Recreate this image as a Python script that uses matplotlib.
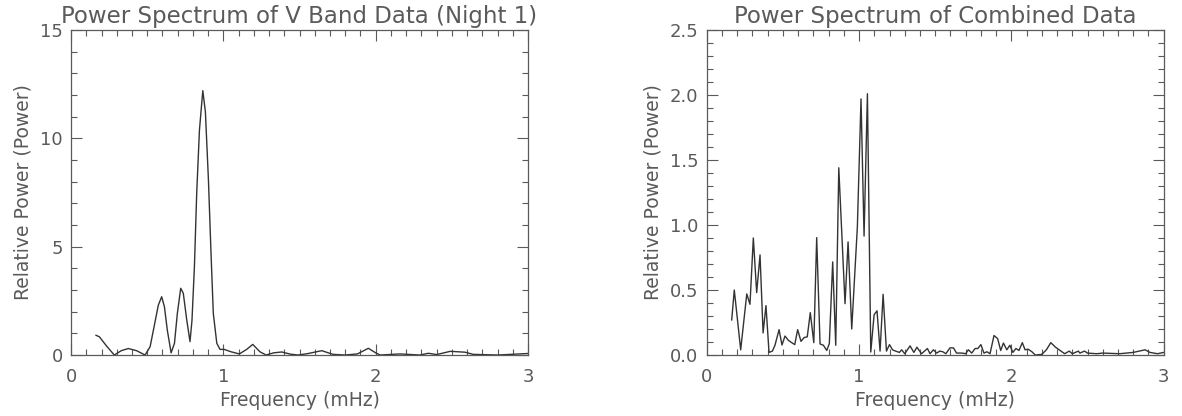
import numpy as np
import matplotlib.pyplot as plt
from matplotlib.ticker import MultipleLocator, FormatStrFormatter

# Espectro de potencia, banda V (noche 1)
freq_v = [0.164, 0.186, 0.235, 0.284, 0.33, 0.376, 0.43, 0.486, 0.519, 0.545,
          0.573, 0.595, 0.613, 0.632, 0.657, 0.679, 0.698, 0.72, 0.737, 0.76,
          0.781, 0.794, 0.81, 0.825, 0.843, 0.865, 0.882, 0.902, 0.919, 0.934,
          0.957, 0.978, 1.005, 1.05, 1.105, 1.153, 1.193, 1.24, 1.28, 1.33,
          1.383, 1.44, 1.49, 1.55, 1.646, 1.72, 1.8, 1.88, 1.952, 2.0,
          2.03, 2.16, 2.29, 2.346, 2.4, 2.49, 2.587, 2.64, 2.8, 3.0]
power_v = [0.91, 0.84, 0.4, 0.0, 0.2, 0.3, 0.2, 0.0, 0.38, 1.3,
           2.3, 2.69, 2.23, 1.15, 0.1, 0.54, 1.92, 3.08, 2.85, 1.6,
           0.62, 1.6, 4.08, 7.46, 10.38, 12.2, 11.23, 8.08, 4.69, 1.92,
           0.54, 0.26, 0.26, 0.15, 0.05, 0.26, 0.49, 0.15, 0.0, 0.1,
           0.14, 0.04, 0.0, 0.06, 0.2, 0.03, 0.0, 0.05, 0.31, 0.1,
           0.0, 0.05, 0.0, 0.08, 0.02, 0.17, 0.13, 0.03, 0.0, 0.07]

# Espectro de potencia, datos combinados
freq_c = [0.164, 0.181, 0.223, 0.263, 0.284, 0.306, 0.328, 0.35, 0.37, 0.389,
          0.409, 0.431, 0.448, 0.475, 0.494, 0.514, 0.536, 0.558, 0.578, 0.597,
          0.619, 0.639, 0.66, 0.68, 0.703, 0.722, 0.744, 0.766, 0.788, 0.805,
          0.827, 0.847, 0.867, 0.908, 0.928, 0.952, 0.989, 1.013, 1.033, 1.055,
          1.077, 1.099, 1.118, 1.138, 1.158, 1.18, 1.2, 1.22, 1.24, 1.265,
          1.28, 1.30, 1.335, 1.36, 1.38, 1.41, 1.449, 1.466, 1.488, 1.51,
          1.53, 1.55, 1.57, 1.597, 1.62, 1.64, 1.675, 1.70, 1.718, 1.74,
          1.762, 1.78, 1.80, 1.82, 1.84, 1.86, 1.886, 1.91, 1.93, 1.948,
          1.97, 1.99, 2.01, 2.03, 2.05, 2.072, 2.09, 2.11, 2.135, 2.157,
          2.2, 2.23, 2.259, 2.29, 2.32, 2.35, 2.38, 2.4, 2.44, 2.45,
          2.48, 2.5, 2.56, 2.6, 2.71, 2.8, 2.878, 2.91, 2.96, 3.0]
power_c = [0.27, 0.50, 0.04, 0.47, 0.39, 0.90, 0.48, 0.77, 0.17, 0.38,
           0.02, 0.03, 0.075, 0.195, 0.077, 0.146, 0.113, 0.095, 0.08, 0.195,
           0.105, 0.134, 0.14, 0.326, 0.095, 0.903, 0.085, 0.075, 0.035, 0.088,
           0.716, 0.075, 1.44, 0.395, 0.87, 0.2, 0.985, 1.97, 0.915, 2.01,
           0.023, 0.31, 0.34, 0.03, 0.467, 0.03, 0.08, 0.04, 0.03, 0.02,
           0.04, 0.01, 0.07, 0.02, 0.06, 0.01, 0.05, 0.01, 0.04, 0.015,
           0.03, 0.025, 0.01, 0.055, 0.055, 0.015, 0.015, 0.01, 0.04, 0.015,
           0.05, 0.05, 0.08, 0.015, 0.025, 0.01, 0.15, 0.126, 0.035, 0.092,
           0.04, 0.075, 0.02, 0.05, 0.035, 0.095, 0.04, 0.045, 0.025, 0.0,
           0.005, 0.04, 0.095, 0.06, 0.035, 0.01, 0.03, 0.01, 0.03, 0.015,
           0.03, 0.015, 0.01, 0.015, 0.01, 0.02, 0.04, 0.02, 0.01, 0.02]

titles = ["Power Spectrum of V Band Data (Night 1)", "Power Spectrum of Combined Data"]

text_col = '#5a5a5a'
line_col = '#333333'

plt.rcParams['font.family'] = 'DejaVu Sans'

fig = plt.figure(figsize=(11.82, 4.16), dpi=100)
ax1 = fig.add_axes([0.0601, 0.1466, 0.3866, 0.7813])
ax2 = fig.add_axes([0.5979, 0.1466, 0.3866, 0.7813])

ax1.plot(freq_v, power_v, color=line_col, lw=1.0)
ax2.plot(freq_c, power_c, color=line_col, lw=1.0)

ax1.set_ylim(0, 15)
ax1.yaxis.set_major_locator(MultipleLocator(5))
ax1.yaxis.set_minor_locator(MultipleLocator(1))
ax2.set_ylim(0, 2.5)
ax2.yaxis.set_major_locator(MultipleLocator(0.5))
ax2.yaxis.set_minor_locator(MultipleLocator(0.1))
ax2.yaxis.set_major_formatter(FormatStrFormatter('%.1f'))

for ax, t in zip([ax1, ax2], titles):
    ax.set_xlim(0, 3)
    ax.xaxis.set_major_locator(MultipleLocator(1))
    ax.xaxis.set_minor_locator(MultipleLocator(0.1))
    ax.tick_params(which='both', direction='in', top=True, right=True,
                   color=text_col, labelcolor=text_col, labelsize=13, width=0.8)
    ax.tick_params(which='major', length=8)
    ax.tick_params(which='minor', length=4)
    ax.tick_params(axis='x', pad=9)
    ax.tick_params(axis='y', pad=6)
    for s in ax.spines.values():
        s.set_color(text_col)
        s.set_linewidth(0.9)
    ax.set_title(t, fontsize=16.5, color=text_col, pad=5)
    ax.set_xlabel("Frequency (mHz)", fontsize=13.5, color=text_col, labelpad=4)
    ax.set_ylabel("Relative Power (Power)", fontsize=13.5, color=text_col, labelpad=5)

fig.savefig('out.png', dpi=100)
